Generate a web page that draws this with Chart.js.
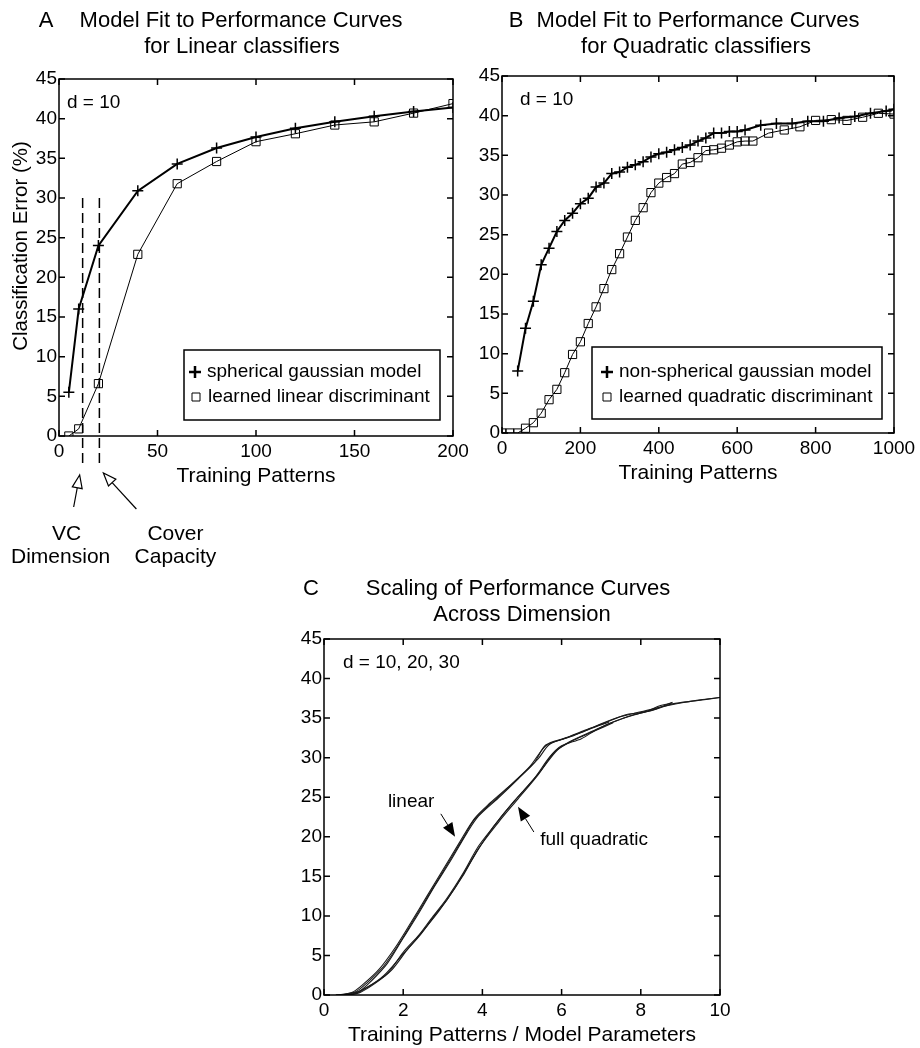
<!DOCTYPE html>
<html>
<head>
<meta charset="utf-8">
<script src="https://cdn.jsdelivr.net/npm/chart.js@4.4.1/dist/chart.umd.min.js"></script>
<style>
  body { margin: 0; background: #fff; }
  #page { position: relative; width: 920px; height: 1048px; overflow: hidden; background: #fff; }
  .panel { position: absolute; }
</style>
</head>
<body>
<div id="page">
  <div class="panel" style="left:0;top:0;width:480px;height:570px"><canvas id="chartA"></canvas></div>
  <div class="panel" style="left:460px;top:0;width:460px;height:570px"><canvas id="chartB"></canvas></div>
  <div class="panel" style="left:270px;top:560px;width:480px;height:488px"><canvas id="chartC"></canvas></div>
</div>
<script>
// ---- panel A: linear classifiers, d = 10
const aPatterns = [5, 10, 20, 40, 60, 80, 100, 120, 140, 160, 180, 200];
const aSpherical = [5.5, 16.0, 24.0, 30.9, 34.3, 36.3, 37.7, 38.8, 39.6, 40.3, 40.9, 41.4];
const aLearned = [0, 0.9, 6.6, 22.9, 31.8, 34.6, 37.1, 38.1, 39.2, 39.6, 40.7, 41.9];
const aVcDim = 12;
const aCoverCap = 20.5;

// ---- panel B: quadratic classifiers, d = 10
const bModelX = [40, 60, 80, 100, 120, 140, 160, 180, 200, 220, 240, 260, 280, 300, 320, 340, 360, 380, 400,
  420, 440, 460, 480, 500, 520, 540, 560, 580, 600, 620, 660, 700, 740, 780, 820, 860, 900, 940, 980, 1000];
const bModelY = [7.8, 13.2, 16.6, 21.2, 23.3, 25.4, 26.8, 27.7, 28.9, 29.6, 31.0, 31.5, 32.7, 32.9, 33.5, 33.8, 34.2, 34.8, 35.2,
  35.4, 35.7, 36.0, 36.3, 36.8, 37.2, 37.8, 37.8, 38.0, 38.0, 38.2, 38.8, 39.0, 39.0, 39.3, 39.3, 39.7, 39.9, 40.3, 40.6, 40.8];
const bLearnedX = [0, 20, 40, 60, 80, 100, 120, 140, 160, 180, 200, 220, 240, 260, 280, 300, 320, 340, 360, 380, 400,
  420, 440, 460, 480, 500, 520, 540, 560, 580, 600, 620, 640, 680, 720, 760, 800, 840, 880, 920, 960, 1000];
const bLearnedY = [0, 0, 0, 0.6, 1.3, 2.5, 4.2, 5.5, 7.6, 9.9, 11.5, 13.8, 15.9, 18.2, 20.6, 22.6, 24.7, 26.8, 28.4, 30.3, 31.5,
  32.2, 32.7, 33.9, 34.1, 34.7, 35.6, 35.7, 35.9, 36.3, 36.7, 36.8, 36.8, 37.8, 38.2, 38.6, 39.4, 39.5, 39.4, 39.8, 40.3, 40.2];

// ---- panel C: scaled curves, d = 10, 20, 30
const cLin10X = [0.3, 0.7, 1.0, 1.4, 1.8, 2.2, 2.6, 3.0, 3.4, 3.8, 4.2, 4.7, 5.2, 5.6, 6.0, 6.5, 7.0, 7.5, 8.0, 8.5, 9.0, 9.5, 10.0];
const cLin10Y = [0, 0.3, 1.4, 3.3, 6.0, 9.2, 12.5, 15.8, 19.1, 22.3, 24.3, 26.5, 28.9, 31.5, 32.3, 33.2, 34.3, 35.2, 35.8, 36.4, 36.9, 37.3, 37.6];
const cLin20X = [0.4, 0.8, 1.1, 1.5, 1.9, 2.3, 2.7, 3.1, 3.5, 3.8, 4.3, 4.8, 5.3, 5.6, 6.1, 6.6, 7.1, 7.6, 8.1, 8.5, 8.8];
const cLin20Y = [0, 0.4, 1.6, 3.6, 6.5, 9.8, 13.1, 16.4, 19.7, 22.2, 24.6, 26.9, 29.3, 31.6, 32.5, 33.5, 34.4, 35.4, 35.8, 36.6, 36.9];
const cLin30X = [0.5, 0.9, 1.2, 1.6, 2.0, 2.4, 2.8, 3.2, 3.6, 3.9, 4.4, 4.9, 5.4, 5.7, 6.2, 6.7, 7.2];
const cLin30Y = [0, 0.5, 1.8, 4.0, 7.2, 10.4, 13.8, 17.0, 20.4, 22.6, 24.9, 27.3, 29.8, 31.7, 32.6, 33.6, 34.5];
const cQuad10X = [0.3, 0.7, 1.1, 1.5, 2.0, 2.4, 2.8, 3.1, 3.5, 3.9, 4.4, 4.9, 5.4, 5.8, 6.2, 6.8, 7.3, 7.8, 8.3, 8.8, 9.4, 10.0];
const cQuad10Y = [0, 0.1, 1.0, 2.4, 5.2, 7.4, 10.1, 12.0, 15.0, 18.5, 21.8, 24.8, 27.8, 30.6, 32.0, 33.4, 34.5, 35.4, 36.0, 36.8, 37.2, 37.6];
const cQuad20X = [0.5, 0.8, 1.2, 1.6, 2.0, 2.4, 2.7, 3.1, 3.5, 3.9, 4.3, 4.8, 5.3, 5.7, 6.0, 6.5, 6.9, 7.4, 7.9, 8.4, 8.8];
const cQuad20Y = [0, 0.2, 1.3, 2.7, 5.4, 7.6, 9.6, 12.2, 15.3, 18.8, 21.4, 24.5, 27.3, 30.1, 31.5, 32.4, 33.6, 34.7, 35.5, 36.2, 37.0];
const cQuad30X = [0.6, 0.9, 1.3, 1.7, 2.1, 2.5, 2.9, 3.3, 3.7, 4.1, 4.5, 5.0, 5.5, 5.9, 6.3, 6.8, 7.3];
const cQuad30Y = [0, 0.3, 1.5, 3.1, 5.7, 8.1, 10.6, 13.5, 16.8, 20.0, 22.7, 25.6, 28.5, 31.0, 32.2, 33.3, 34.4];

const errTicks = [0, 45, 5];

Chart.defaults.font.family = '"Liberation Sans", Arial, Helvetica, sans-serif';
Chart.defaults.color = '#000';

const FONT = '"Liberation Sans", Arial, sans-serif';
const TITLE = 22, AXT = 21, TICK = 19, NOTE = 19;

function pts(xs, ys) {
  return xs.map((x, i) => ({ x: x, y: ys[i] }));
}

// fixed axis boxes so that the plot areas sit where they do in the figure
function fixSize(size) {
  return function (scale) {
    if (scale.isHorizontal()) scale.height = size; else scale.width = size;
    scale.paddingLeft = scale.paddingRight = scale.paddingTop = scale.paddingBottom = 0;
  };
}

function axes(xMin, xMax, xStep, yWidth) {
  return {
    x: {
      type: 'linear', min: xMin, max: xMax,
      grid: { display: false, drawTicks: false },
      border: { display: false },
      ticks: { stepSize: xStep, padding: 4, maxRotation: 0, font: { size: TICK }, callback: v => String(v) },
      afterFit: fixSize(40)
    },
    y: {
      type: 'linear', min: errTicks[0], max: errTicks[1],
      grid: { display: false, drawTicks: false },
      border: { display: false },
      ticks: { stepSize: errTicks[2], padding: 2, font: { size: TICK } },
      afterFit: fixSize(yWidth)
    }
  };
}

// MATLAB style box with inward tick marks
const frame = {
  id: 'frame',
  afterDatasetsDraw(chart) {
    const { ctx, chartArea: a, scales: { x, y } } = chart;
    ctx.save();
    ctx.strokeStyle = '#000';
    ctx.lineWidth = 1.5;
    ctx.strokeRect(a.left, a.top, a.right - a.left, a.bottom - a.top);
    const t = 6;
    ctx.beginPath();
    x.ticks.forEach(tk => {
      const p = x.getPixelForValue(tk.value);
      ctx.moveTo(p, a.bottom); ctx.lineTo(p, a.bottom - t);
      ctx.moveTo(p, a.top); ctx.lineTo(p, a.top + t);
    });
    y.ticks.forEach(tk => {
      const p = y.getPixelForValue(tk.value);
      ctx.moveTo(a.left, p); ctx.lineTo(a.left + t, p);
      ctx.moveTo(a.right, p); ctx.lineTo(a.right - t, p);
    });
    ctx.stroke();
    ctx.restore();
  }
};

function text(ctx, s, x, y, size, align, base) {
  ctx.font = size + 'px ' + FONT;
  ctx.fillStyle = '#000';
  ctx.textAlign = align || 'center';
  ctx.textBaseline = base || 'alphabetic';
  ctx.fillText(s, x, y);
}

function arrow(ctx, x1, y1, x2, y2, len, half, filled) {
  const ang = Math.atan2(y2 - y1, x2 - x1);
  const bx = x2 - len * Math.cos(ang), by = y2 - len * Math.sin(ang);
  ctx.beginPath();
  ctx.moveTo(x1, y1); ctx.lineTo(bx, by);
  ctx.stroke();
  ctx.beginPath();
  ctx.moveTo(x2, y2);
  ctx.lineTo(bx + half * Math.sin(ang), by - half * Math.cos(ang));
  ctx.lineTo(bx - half * Math.sin(ang), by + half * Math.cos(ang));
  ctx.closePath();
  if (filled) {
    ctx.fillStyle = '#000'; ctx.fill();
  } else {
    ctx.fillStyle = '#fff'; ctx.fill(); ctx.stroke();
  }
}

function legendBox(ctx, l, t, r, b, rows) {
  ctx.save();
  ctx.strokeStyle = '#000';
  ctx.lineWidth = 1.5;
  ctx.fillStyle = '#fff';
  ctx.fillRect(l, t, r - l, b - t);
  ctx.strokeRect(l, t, r - l, b - t);
  rows.forEach(row => {
    ctx.lineWidth = row.mark === 'plus' ? 2.5 : 1;
    ctx.beginPath();
    if (row.mark === 'plus') {
      ctx.moveTo(row.x - 6, row.y); ctx.lineTo(row.x + 6, row.y);
      ctx.moveTo(row.x, row.y - 6); ctx.lineTo(row.x, row.y + 6);
    } else {
      ctx.rect(row.x - 4, row.y - 4, 8, 8);
    }
    ctx.stroke();
    text(ctx, row.label, row.x + 12, row.y, NOTE, 'left', 'middle');
  });
  ctx.restore();
}

const plusStyle = {
  borderColor: '#000', borderWidth: 2, pointStyle: 'cross', pointRadius: 5.5,
  pointBorderWidth: 1.5, pointBorderColor: '#000', tension: 0, fill: false
};
const squareStyle = {
  borderColor: '#000', borderWidth: 1, pointStyle: 'rect', pointRadius: 5.8,
  pointBorderWidth: 1, pointBorderColor: '#000', pointBackgroundColor: 'rgba(255,255,255,0)',
  tension: 0, fill: false
};

const common = {
  responsive: true, maintainAspectRatio: false, animation: false, devicePixelRatio: 1,
  plugins: { legend: { display: false }, tooltip: { enabled: false } }
};

// ---------- A ----------
new Chart(document.getElementById('chartA'), {
  type: 'line',
  data: {
    datasets: [
      Object.assign({ label: 'spherical gaussian model', data: pts(aPatterns, aSpherical) }, plusStyle),
      Object.assign({ label: 'learned linear discriminant', data: pts(aPatterns, aLearned) }, squareStyle)
    ]
  },
  options: Object.assign({}, common, {
    layout: { padding: { left: 0, top: 79, right: 480 - 453, bottom: 570 - 436 - 40 } },
    scales: axes(0, 200, 50, 59)
  }),
  plugins: [frame, {
    id: 'notesA',
    afterDraw(chart) {
      const { ctx, chartArea: a, scales: { x, y } } = chart;
      ctx.save();
      text(ctx, 'A', 46, 27, TITLE);
      text(ctx, 'Model Fit to Performance Curves', 241, 27, TITLE);
      text(ctx, 'for Linear classifiers', 242, 53, TITLE);
      text(ctx, 'd = 10', a.left + 8, y.getPixelForValue(42), NOTE, 'left', 'middle');
      // axis titles
      text(ctx, 'Training Patterns', (a.left + a.right) / 2, a.bottom + 40, AXT, 'center', 'middle');
      ctx.save();
      ctx.translate(21, 246);
      ctx.rotate(-Math.PI / 2);
      text(ctx, 'Classification Error (%)', 0, 0, 20.5, 'center', 'middle');
      ctx.restore();
      // VC dimension / cover capacity markers
      ctx.strokeStyle = '#000';
      ctx.lineWidth = 1.5;
      ctx.setLineDash([10, 5]);
      [aVcDim, aCoverCap].forEach(v => {
        const px = x.getPixelForValue(v);
        ctx.beginPath();
        ctx.moveTo(px, y.getPixelForValue(30));
        ctx.lineTo(px, a.bottom + 30);
        ctx.stroke();
      });
      ctx.setLineDash([]);
      ctx.lineWidth = 1.2;
      const vc = x.getPixelForValue(aVcDim), cc = x.getPixelForValue(aCoverCap);
      arrow(ctx, vc - 9, a.bottom + 71, vc - 3, a.bottom + 39, 13, 5, false);
      arrow(ctx, cc + 37, a.bottom + 73, cc + 4, a.bottom + 37, 13, 5, false);
      text(ctx, 'VC', vc - 16, a.bottom + 98, AXT, 'center', 'middle');
      text(ctx, 'Dimension', vc - 22, a.bottom + 121, AXT, 'center', 'middle');
      text(ctx, 'Cover', cc + 76, a.bottom + 98, AXT, 'center', 'middle');
      text(ctx, 'Capacity', cc + 76, a.bottom + 121, AXT, 'center', 'middle');
      legendBox(ctx, 184, 350, 440, 420, [
        { mark: 'plus', x: 195, y: 372, label: 'spherical gaussian model' },
        { mark: 'square', x: 196, y: 397, label: 'learned linear discriminant' }
      ]);
      ctx.restore();
    }
  }]
});

// ---------- B ----------
new Chart(document.getElementById('chartB'), {
  type: 'line',
  data: {
    datasets: [
      Object.assign({ label: 'non-spherical gaussian model', data: pts(bModelX, bModelY) }, plusStyle),
      Object.assign({ label: 'learned quadratic discriminant', data: pts(bLearnedX, bLearnedY) }, squareStyle)
    ]
  },
  options: Object.assign({}, common, {
    layout: { padding: { left: 0, top: 76, right: 460 - 434, bottom: 570 - 433 - 40 } },
    scales: axes(0, 1000, 200, 42)
  }),
  plugins: [frame, {
    id: 'notesB',
    afterDraw(chart) {
      const { ctx, chartArea: a, scales: { y } } = chart;
      ctx.save();
      text(ctx, 'B', 56, 27, TITLE);
      text(ctx, 'Model Fit to Performance Curves', 238, 27, TITLE);
      text(ctx, 'for Quadratic classifiers', 236, 53, TITLE);
      text(ctx, 'd = 10', a.left + 18, y.getPixelForValue(42), NOTE, 'left', 'middle');
      text(ctx, 'Training Patterns', (a.left + a.right) / 2, a.bottom + 40, AXT, 'center', 'middle');
      legendBox(ctx, 132, 347, 422, 419, [
        { mark: 'plus', x: 147, y: 372, label: 'non-spherical gaussian model' },
        { mark: 'square', x: 147, y: 397, label: 'learned quadratic discriminant' }
      ]);
      ctx.restore();
    }
  }]
});

// ---------- C ----------
const thin = { borderColor: '#1a1a1a', borderWidth: 1.1, pointRadius: 0, tension: 0.3, fill: false };
new Chart(document.getElementById('chartC'), {
  type: 'line',
  data: {
    datasets: [
      Object.assign({ label: 'linear d=10', data: pts(cLin10X, cLin10Y) }, thin),
      Object.assign({ label: 'linear d=20', data: pts(cLin20X, cLin20Y) }, thin),
      Object.assign({ label: 'linear d=30', data: pts(cLin30X, cLin30Y) }, thin),
      Object.assign({ label: 'quadratic d=10', data: pts(cQuad10X, cQuad10Y) }, thin),
      Object.assign({ label: 'quadratic d=20', data: pts(cQuad20X, cQuad20Y) }, thin),
      Object.assign({ label: 'quadratic d=30', data: pts(cQuad30X, cQuad30Y) }, thin)
    ]
  },
  options: Object.assign({}, common, {
    layout: { padding: { left: 0, top: 79, right: 30, bottom: 488 - 435 - 40 } },
    scales: axes(0, 10, 2, 54)
  }),
  plugins: [frame, {
    id: 'notesC',
    afterDraw(chart) {
      const { ctx, chartArea: a, scales: { x, y } } = chart;
      ctx.save();
      text(ctx, 'C', 41, 35, TITLE);
      text(ctx, 'Scaling of Performance Curves', 248, 35, TITLE);
      text(ctx, 'Across Dimension', 252, 61, TITLE);
      text(ctx, 'd = 10, 20, 30', a.left + 19, y.getPixelForValue(42), NOTE, 'left', 'middle');
      text(ctx, 'Training Patterns / Model Parameters', (a.left + a.right) / 2, a.bottom + 40, AXT, 'center', 'middle');
      text(ctx, 'linear', x.getPixelForValue(2.2), y.getPixelForValue(24.4), NOTE, 'center', 'middle');
      text(ctx, 'full quadratic', x.getPixelForValue(6.82), y.getPixelForValue(19.6), NOTE, 'center', 'middle');
      ctx.strokeStyle = '#000';
      ctx.lineWidth = 1;
      arrow(ctx, x.getPixelForValue(2.95), y.getPixelForValue(22.9), x.getPixelForValue(3.31), y.getPixelForValue(20.0), 14, 5.5, true);
      arrow(ctx, x.getPixelForValue(5.3), y.getPixelForValue(20.6), x.getPixelForValue(4.9), y.getPixelForValue(23.8), 14, 5.5, true);
      ctx.restore();
    }
  }]
});
</script>
</body>
</html>
